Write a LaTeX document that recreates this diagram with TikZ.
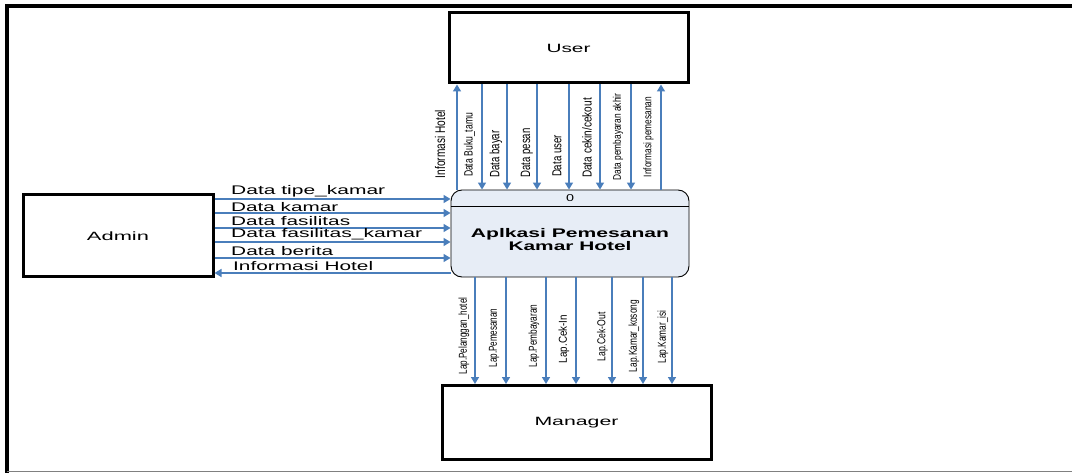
\documentclass[tikz,border=0pt]{standalone}
\usepackage{fontspec}
\setmainfont{Liberation Sans}
\usepackage{graphicx}
\usetikzlibrary{arrows.meta}
\definecolor{arrblue}{HTML}{4A7EBB}
\definecolor{procfill}{HTML}{E7EDF6}
\newcommand{\sqz}[3]{\resizebox{#1pt}{\height}{\fontsize{#2}{#2}\selectfont #3}}
\tikzset{
  ent/.style={draw=black, line width=3pt, fill=white, inner sep=0pt},
  proc/.style={draw=black, line width=0.9pt, fill=procfill, rounded corners=11pt, inner sep=0pt},
  arr/.style={draw=arrblue, line width=1.5pt, -{Triangle[width=8pt,length=7pt]}},
  vlab/.style={inner sep=0pt, rotate=90, anchor=center},
  hlab/.style={inner sep=0pt, anchor=south west},
}
\begin{document}
\begin{tikzpicture}[x=1pt,y=-1pt]
\useasboundingbox (0,0) rectangle (1072,473);
% frame
\draw[line width=4pt] (6.5,473) -- (6.5,6) -- (1072,6);
\draw[gray, line width=1pt] (6.5,471.5) -- (1072,471.5);
% entities
\node[ent, minimum width=239pt, minimum height=70pt] (U) at (568.5,48) {\sqz{44}{12}{User}};
\node[ent, minimum width=190pt, minimum height=82pt] (A) at (118,236) {\sqz{62}{12}{Admin}};
\node[ent, minimum width=269pt, minimum height=74pt] (M) at (576.5,422.5) {\sqz{84}{12}{Manager}};
\node[proc, minimum width=238pt, minimum height=87pt] (P) at (570,233.5) {};
\draw[line width=0.9pt] (P.west |- 0,206) -- (P.east |- 0,206);
\node[inner sep=0pt] (P0) at (570,198) {\sqz{8}{10}{0}};
\node[inner sep=0pt, align=center] (PT) at (570,240) {\sqz{198}{12.5}{\bfseries Aplkasi Pemesanan}\\[1pt]\sqz{123}{12.5}{\bfseries Kamar Hotel}};
% top flows
\draw[arr] (P.north -| 457,0) -- (U.south -| 457,0);
\draw[arr] (U.south -| 482,0) -- (P.north -| 482,0);
\draw[arr] (U.south -| 507,0) -- (P.north -| 507,0);
\draw[arr] (U.south -| 537,0) -- (P.north -| 537,0);
\draw[arr] (U.south -| 569,0) -- (P.north -| 569,0);
\draw[arr] (U.south -| 600,0) -- (P.north -| 600,0);
\draw[arr] (U.south -| 631,0) -- (P.north -| 631,0);
\draw[arr] (P.north -| 661,0) -- (U.south -| 661,0);
\node[vlab] (t1) at (440,144) {\sqz{68}{14}{Informasi Hotel}};
\node[vlab] (t2) at (469.5,145) {\sqz{64}{12}{Data Buku\_tamu}};
\node[vlab] (t3) at (496,154) {\sqz{47}{13.5}{Data bayar}};
\node[vlab] (t4) at (527,153) {\sqz{49}{13.5}{Data pesan}};
\node[vlab] (t5) at (557,156) {\sqz{42}{13}{Data user}};
\node[vlab] (t6) at (587,138) {\sqz{80}{13}{Data cekin/cekout}};
\node[vlab] (t7) at (618,137) {\sqz{87}{11}{Data pembayaran akhir}};
\node[vlab] (t8) at (648.5,137) {\sqz{80}{11}{Informasi pemesanan}};
% left flows
\draw[arr] (A.east |- 0,199) -- (P.west |- 0,199);
\draw[arr] (A.east |- 0,213) -- (P.west |- 0,213);
\draw[arr] (A.east |- 0,228) -- (P.west |- 0,228);
\draw[arr] (A.east |- 0,242) -- (P.west |- 0,242);
\draw[arr] (A.east |- 0,258) -- (P.west |- 0,258);
\draw[arr] (P.west |- 0,273) -- (A.east |- 0,273);
\node[hlab] (h1) at (231,197) {\sqz{154}{12.5}{Data tipe\_kamar}};
\node[hlab] (h2) at (231,211.5) {\sqz{107}{12.5}{Data kamar}};
\node[hlab] (h3) at (231,226) {\sqz{119}{12.5}{Data fasilitas}};
\node[hlab] (h4) at (231,240.5) {\sqz{191}{12.5}{Data fasilitas\_kamar}};
\node[hlab] (h5) at (231,256) {\sqz{102}{12.5}{Data berita}};
\node[hlab] (h6) at (233,270.5) {\sqz{140}{12.5}{Informasi Hotel}};
% bottom flows
\draw[arr] (P.south -| 475,0) -- (M.north -| 475,0);
\draw[arr] (P.south -| 506,0) -- (M.north -| 506,0);
\draw[arr] (P.south -| 546,0) -- (M.north -| 546,0);
\draw[arr] (P.south -| 576,0) -- (M.north -| 576,0);
\draw[arr] (P.south -| 612,0) -- (M.north -| 612,0);
\draw[arr] (P.south -| 643,0) -- (M.north -| 643,0);
\draw[arr] (P.south -| 672,0) -- (M.north -| 672,0);
\node[vlab] (b1) at (464,336) {\sqz{77}{11.5}{Lap.Pelanggan\_hotel}};
\node[vlab] (b2) at (494,338) {\sqz{59}{11.5}{Lap.Pemesanan}};
\node[vlab] (b3) at (534,336) {\sqz{63}{11.5}{Lap.Pembayaran}};
\node[vlab] (b4) at (564,339) {\sqz{48}{11.5}{Lap.Cek-In}};
\node[vlab] (b5) at (602.5,337) {\sqz{49}{11.5}{Lap.Cek-Out}};
\node[vlab] (b6) at (634,336) {\sqz{72}{11.5}{Lap.Kamar\_kosong}};
\node[vlab] (b7) at (663,337) {\sqz{53}{11.5}{Lap.Kamar\_isi}};
\end{tikzpicture}
\end{document}
